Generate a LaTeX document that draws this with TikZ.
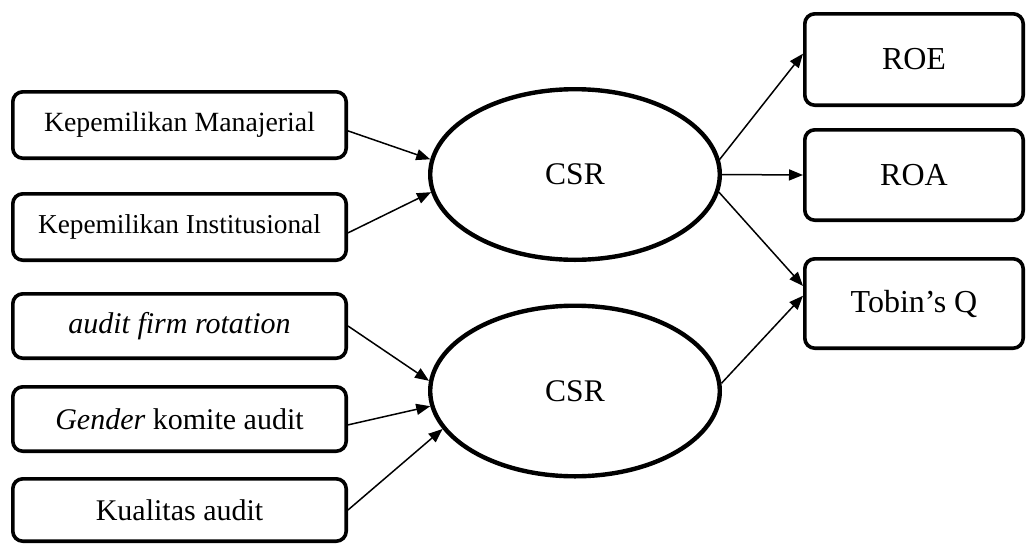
\documentclass[tikz,border=0pt]{standalone}
\usepackage{fontspec}
\setmainfont{Liberation Serif}
\usetikzlibrary{arrows.meta,shapes.geometric}
\tikzset{
  leftbox/.style={draw, line width=3.6pt, rounded corners=10pt, minimum width=333.4pt, inner sep=0pt, font=\fontsize{30}{32}\selectfont},
  rightbox/.style={draw, line width=3.6pt, rounded corners=10pt, minimum width=218.4pt, inner sep=0pt, font=\fontsize{32}{34}\selectfont},
  latent/.style={draw, ellipse, line width=4.4pt, minimum width=289.6pt, minimum height=170.6pt, inner sep=0pt, font=\fontsize{31.5}{33}\selectfont},
  arr/.style={line width=1.5pt, -{Triangle[length=14pt,width=11pt]}}
}
\begin{document}
\begin{tikzpicture}[x=1pt,y=-1pt]
\useasboundingbox (0,0) rectangle (1026,544);
% left boxes
\node[leftbox, minimum height=66.4pt, font=\fontsize{27.8}{30}\selectfont] (b1) at (179.5,125) {Kepemilikan Manajerial};
\node[leftbox, minimum height=66.4pt, font=\fontsize{27.3}{30}\selectfont] (b2) at (179.5,227) {Kepemilikan Institusional};
\node[leftbox, minimum height=64.4pt] (b3) at (179.5,326) {\textit{audit firm rotation}};
\node[leftbox, minimum height=64.4pt] (b4) at (179.5,419) {\textit{Gender} komite audit};
\node[leftbox, minimum height=62.4pt] (b5) at (179.5,510) {Kualitas audit};
% ellipses
\node[latent] (e1) at (575,174.5) {CSR};
\node[latent] (e2) at (575,391) {CSR};
% right boxes
\node[rightbox, minimum height=91.4pt] (roe) at (914,59.5) {ROE};
\node[rightbox, minimum height=90.4pt] (roa) at (914,175) {ROA};
\node[rightbox, minimum height=89.4pt] (tq) at (914,303.5) {Tobin’s Q};
% arrows
\draw[arr] (b1.-2.4) -- (e1.174.3);
\draw[arr] (b2.-2.0) -- (e1.187.3);
\draw[arr] (b3.-0.3) -- (e2.176.9);
\draw[arr] (b4.-2.0) -- (e2.186.6);
\draw[arr] (b5.-0.5) -- (e2.196.5);
\draw[arr] (e1.6.9) -- (roe.177.7);
\draw[arr] (e1.east) -- (roa.west);
\draw[arr] (e1.-7.3) -- (tq.171.5);
\draw[arr] (e2.3.1) -- (tq.176.6);
\end{tikzpicture}
\end{document}
